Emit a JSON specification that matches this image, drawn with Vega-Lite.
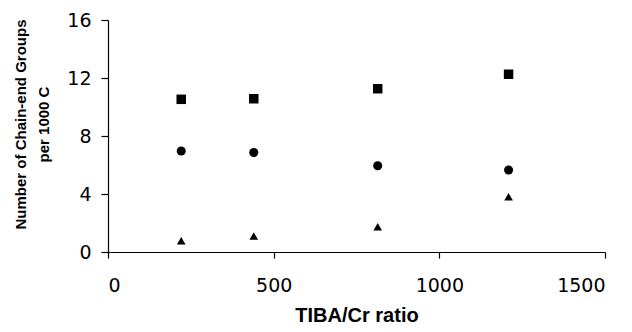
{
  "$schema": "https://vega.github.io/schema/vega-lite/v6.json",
  "width": 497,
  "height": 232,
  "autosize": {"type": "none"},
  "padding": {"left": 108, "top": 20, "right": 27, "bottom": 80},
  "background": "white",
  "config": {
    "view": {"stroke": null},
    "font": "Liberation Sans",
    "axis": {"grid": false, "domainColor": "black", "tickColor": "black", "labelColor": "black", "titleColor": "black", "labelFont": "DejaVu Sans", "titleFont": "Liberation Sans", "domainWidth": 1.2, "tickWidth": 1.2}
  },
  "data": {
    "values": [
      {"ratio": 221, "value": 10.53, "series": "A"},
      {"ratio": 440, "value": 10.57, "series": "A"},
      {"ratio": 814, "value": 11.26, "series": "A"},
      {"ratio": 1209, "value": 12.26, "series": "A"},
      {"ratio": 221, "value": 6.97, "series": "B"},
      {"ratio": 440, "value": 6.86, "series": "B"},
      {"ratio": 814, "value": 5.95, "series": "B"},
      {"ratio": 1209, "value": 5.66, "series": "B"},
      {"ratio": 221, "value": 0.78, "series": "C"},
      {"ratio": 440, "value": 1.1, "series": "C"},
      {"ratio": 814, "value": 1.74, "series": "C"},
      {"ratio": 1209, "value": 3.81, "series": "C"}
    ]
  },
  "mark": {"type": "point", "filled": true, "color": "black", "opacity": 1},
  "encoding": {
    "x": {
      "field": "ratio", "type": "quantitative",
      "scale": {"domain": [0, 1500], "nice": false},
      "axis": {"values": [0, 500, 1000, 1500], "format": "d", "tickSize": 6, "labelPadding": 18, "labelFontSize": 19, "title": "TIBA/Cr ratio", "titleFontSize": 20, "titleFontWeight": "bold", "titleY": 63, "titleBaseline": "middle"}
    },
    "y": {
      "field": "value", "type": "quantitative",
      "scale": {"domain": [0, 16], "nice": false},
      "axis": {"values": [0, 4, 8, 12, 16], "format": "d", "tickSize": 7, "labelPadding": 10, "labelFontSize": 19, "title": ["Number of Chain-end Groups", "per 1000 C"], "titleFontSize": 15, "titleFontWeight": "bold", "titleLineHeight": 23, "titleAngle": -90, "titleX": -88, "titleY": 104, "titleBaseline": "middle"}
    },
    "shape": {
      "field": "series", "type": "nominal",
      "scale": {"domain": ["A", "B", "C"], "range": ["square", "circle", "triangle-up"]},
      "legend": null
    },
    "size": {
      "field": "series", "type": "nominal",
      "scale": {"domain": ["A", "B", "C"], "range": [90, 75, 190]},
      "legend": null
    }
  }
}
